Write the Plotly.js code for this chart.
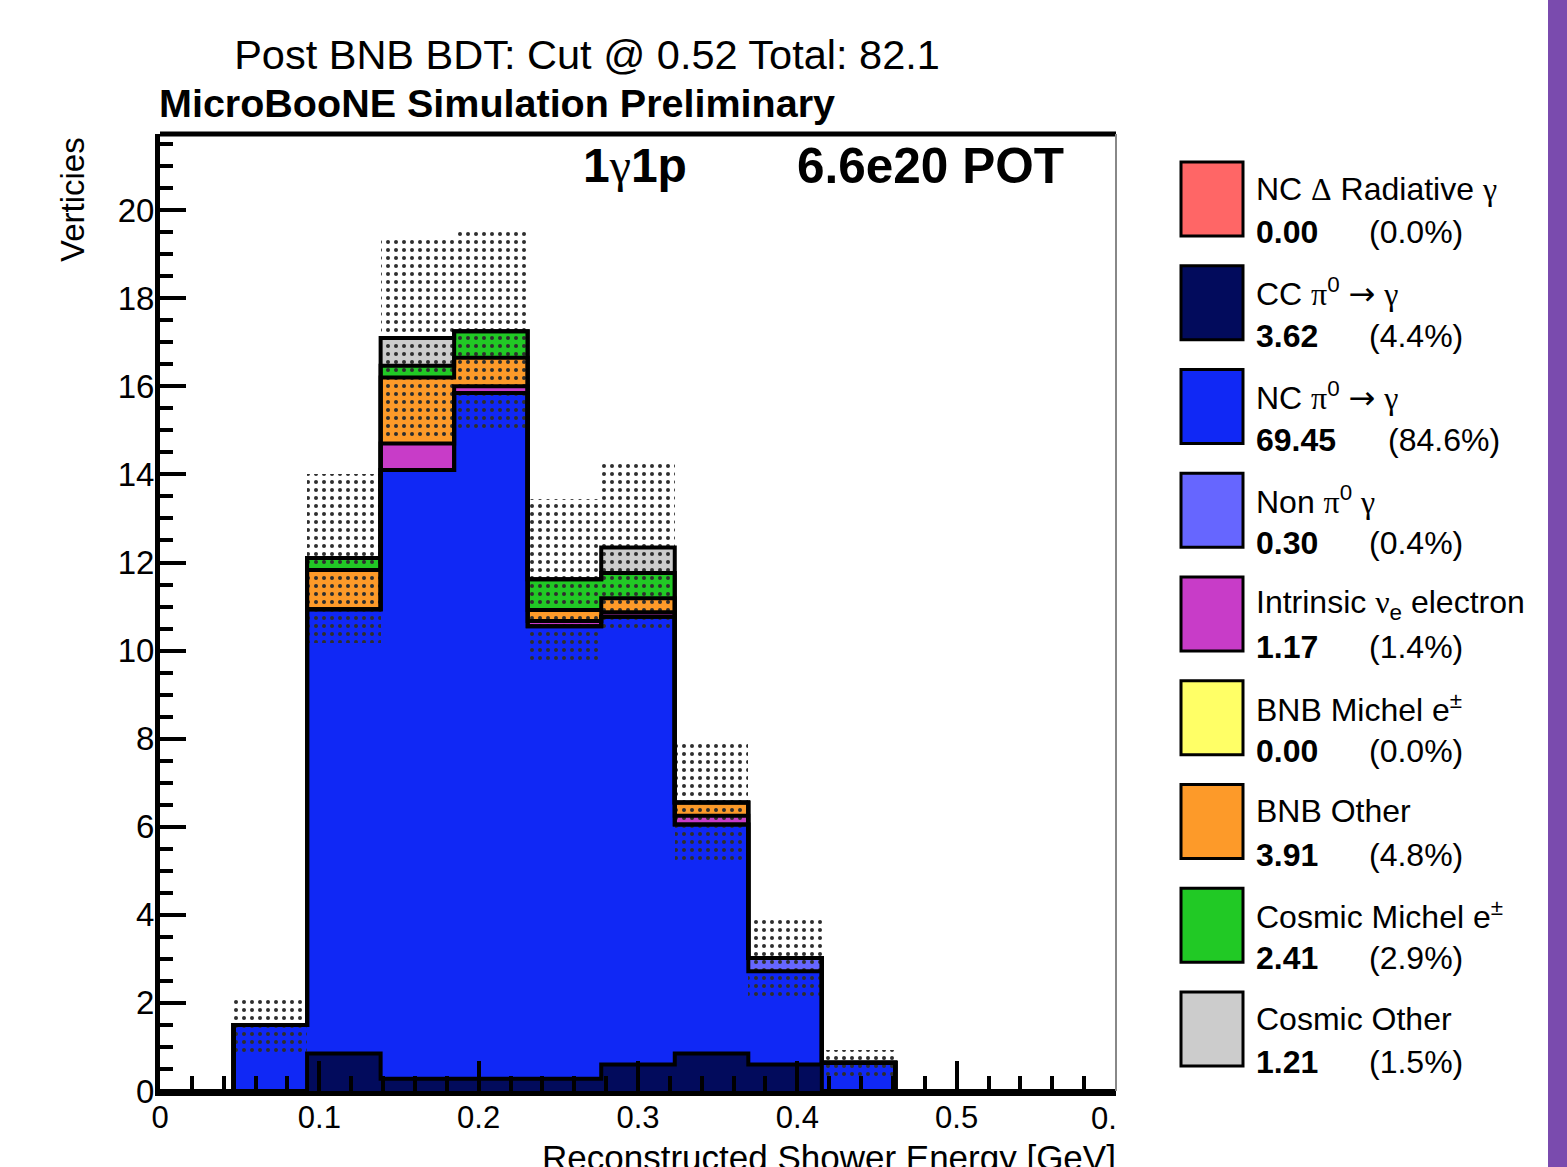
<!DOCTYPE html>
<html><head><meta charset="utf-8">
<script src="https://cdn.plot.ly/plotly-3.0.1.min.js"></script>
<style>html,body{margin:0;padding:0;background:#fff;} #chart{width:1567px;height:1167px;}</style>
</head><body><div id="chart"></div>
<script>
// ---------- data ----------
const xMin = 0, xMax = 0.6, nBins = 13;
const ncDeltaRad   = [0, 0,    0,     0,     0,     0,     0,     0,    0,    0,    0, 0, 0];
const ccPi0        = [0, 0,    0.85,  0.28,  0.28,  0.28,  0.6,   0.85, 0.6,  0,    0, 0, 0];
const ncPi0        = [0, 1.5,  10.09, 13.82, 15.57, 10.27, 10.17, 5.2,  2.12, 0.64, 0, 0, 0];
const nonPi0       = [0, 0,    0,     0,     0,     0,     0,     0,    0.3,  0,    0, 0, 0];
const intrinsicNue = [0, 0,    0,     0.6,   0.15,  0.12,  0.1,   0.2,  0,    0,    0, 0, 0];
const bnbMichel    = [0, 0,    0,     0,     0,     0,     0,     0,    0,    0,    0, 0, 0];
const bnbOther     = [0, 0,    0.89,  1.5,   0.65,  0.25,  0.32,  0.3,  0,    0,    0, 0, 0];
const cosmicMichel = [0, 0,    0.27,  0.27,  0.6,   0.7,   0.57,  0,    0,    0,    0, 0, 0];
const cosmicOther  = [0, 0,    0,     0.63,  0,     0,     0.58,  0,    0,    0,    0, 0, 0];
const statErr      = [0, 0.61, 1.92,  2.22,  2.25,  1.83,  1.89,  1.34, 0.93, 0.29, 0, 0, 0];

const SERIF = 'font-family:Liberation Serif';
const ARROW = '<span style="font-family:DejaVu Sans">→</span>';
const seriesNames = [
  'NC <span style="' + SERIF + '">Δ</span> Radiative <span style="' + SERIF + '">γ</span>',
  'CC <span style="' + SERIF + '">π</span><sup>0</sup> ' + ARROW + ' <span style="' + SERIF + '">γ</span>',
  'NC <span style="' + SERIF + '">π</span><sup>0</sup> ' + ARROW + ' <span style="' + SERIF + '">γ</span>',
  'Non <span style="' + SERIF + '">π</span><sup>0</sup> <span style="' + SERIF + '">γ</span>',
  'Intrinsic <span style="' + SERIF + '">ν</span><sub>e</sub> electron',
  'BNB Michel e<sup>±</sup>',
  'BNB Other',
  'Cosmic Michel e<sup>±</sup>',
  'Cosmic Other'
];
const seriesTotals = ['0.00', '3.62', '69.45', '0.30', '1.17', '0.00', '3.91', '2.41', '1.21'];
const seriesPcts   = ['(0.0%)', '(4.4%)', '(84.6%)', '(0.4%)', '(1.4%)', '(0.0%)', '(4.8%)', '(2.9%)', '(1.5%)'];
const xTickVals  = [0, 0.1, 0.2, 0.3, 0.4, 0.5];
const xTickText  = ['0', '0.1', '0.2', '0.3', '0.4', '0.5'];

// ---------- style ----------
const stack  = [ncDeltaRad, ccPi0, ncPi0, nonPi0, intrinsicNue, bnbMichel, bnbOther, cosmicMichel, cosmicOther];
const colors = ['#ff6666', '#020b5c', '#1028f5', '#6666ff', '#c83cc8', '#ffff66', '#fd9a29', '#21c925', '#cccccc'];
const FONT = 'Liberation Sans, Arial, Helvetica, sans-serif';

const binW = (xMax - xMin) / nBins;
const centers = Array.from({length: nBins}, (_, i) => xMin + (i + 0.5) * binW);
const edges = Array.from({length: nBins + 1}, (_, i) => xMin + i * binW);

const fillTraces = [], outlineTraces = [];
let cum = new Array(nBins).fill(0);
stack.forEach((vals, k) => {
  fillTraces.push({
    type: 'bar', x: centers, y: vals.map(v => v > 0 ? v : null), base: cum.slice(),
    width: binW, marker: {color: colors[k], line: {width: 0}},
    showlegend: false, hoverinfo: 'skip'
  });
  cum = cum.map((c, i) => c + vals[i]);
  if (vals.some(v => v > 0)) {
    outlineTraces.push({
      type: 'scatter', mode: 'lines', x: edges, y: cum.concat([cum[nBins - 1]]),
      line: {shape: 'hv', color: '#000', width: 4}, showlegend: false, hoverinfo: 'skip', cliponaxis: true
    });
  }
});
const total = cum;
const bandTrace = {
  type: 'bar', x: centers, y: statErr.map(e => e > 0 ? 2 * e : null),
  base: total.map((t, i) => t - statErr[i]), width: binW,
  marker: {color: 'rgba(0,0,0,0)', line: {width: 0},
           pattern: {shape: '.', fgcolor: '#2e2e2e', size: 8, solidity: 0.2}},
  showlegend: false, hoverinfo: 'skip'
};
const traces = fillTraces.concat([bandTrace], outlineTraces);

// ---------- layout helpers (pixel -> paper) ----------
const L = 160, R = 1116, T = 134, B = 1091;
const px = p => (p - L) / (R - L);
const py = p => (B - p) / (B - T);

const annotations = [
  {text: '<b>MicroBooNE Simulation Preliminary</b>', x: px(157), y: py(103), xanchor: 'left', yanchor: 'middle', font: {size: 39.5}},
  {text: '<b>1</b><span style="' + SERIF + '">γ</span><b>1p</b>', x: px(635), y: py(165), xanchor: 'center', yanchor: 'middle', font: {size: 48}},
  {text: '<b>6.6e20 POT</b>', x: px(795), y: py(165), xanchor: 'left', yanchor: 'middle', font: {size: 49.5}},
  {text: 'Reconstructed Shower Energy [GeV]', x: px(1118), y: py(1157), xanchor: 'right', yanchor: 'middle', font: {size: 35}},
  {text: 'Verticies', x: px(72), y: py(200), xanchor: 'center', yanchor: 'middle', textangle: -90, font: {size: 33}},
  {text: '0.', x: px(1119), y: py(1118), xanchor: 'right', yanchor: 'middle', font: {size: 31}}
];
const shapes = [
  {type: 'line', xref: 'paper', yref: 'paper', x0: 0, x1: 1, y0: 1, y1: 1, line: {color: '#000', width: 5}},
  {type: 'line', xref: 'paper', yref: 'paper', x0: 1, x1: 1, y0: 0, y1: 1, line: {color: '#888', width: 2}},
  {type: 'rect', xref: 'paper', yref: 'paper', x0: px(1548), x1: px(1570), y0: py(-5), y1: py(1172), fillcolor: '#7a4bae', line: {width: 0}}
];
seriesNames.forEach((name, i) => {
  const top = 162 + i * 103.75;
  shapes.push({type: 'rect', xref: 'paper', yref: 'paper', x0: px(1181), x1: px(1243), y0: py(top), y1: py(top + 74),
               fillcolor: colors[i], line: {color: '#000', width: 3}});
  annotations.push({text: name, x: px(1254), y: py(top + 27), xanchor: 'left', yanchor: 'middle', font: {size: 32}});
  annotations.push({text: '<b>' + seriesTotals[i] + '</b>', x: px(1254), y: py(top + 70), xanchor: 'left', yanchor: 'middle', font: {size: 32}});
  const valW = seriesTotals[i].length * 18.3;
  annotations.push({text: seriesPcts[i], x: px(1257 + valW + 37), y: py(top + 70), xanchor: 'left', yanchor: 'middle', font: {size: 32}});
});
annotations.forEach(a => { a.xref = 'paper'; a.yref = 'paper'; a.showarrow = false; a.font.family = FONT; a.font.color = '#000'; });

const layout = {
  width: 1567, height: 1167,
  margin: {l: L, r: 1567 - R, t: T, b: 1167 - B, pad: 0},
  paper_bgcolor: '#fff', plot_bgcolor: '#fff',
  barmode: 'overlay', bargap: 0,
  font: {family: FONT, color: '#000'},
  title: {text: 'Post BNB BDT: Cut @ 0.52 Total: 82.1', x: 587 / 1567, xref: 'container', xanchor: 'center',
          y: 1 - 54 / 1167, yref: 'container', yanchor: 'middle', font: {family: FONT, size: 41.5, color: '#000'}},
  xaxis: {range: [xMin, xMax], tickmode: 'array', tickvals: xTickVals, ticktext: xTickText,
          ticks: 'inside', ticklen: 30, tickwidth: 4, tickcolor: '#000',
          minor: {ticks: 'inside', ticklen: 15, tickwidth: 4, tickcolor: '#000', tick0: 0, dtick: 0.02, showgrid: false},
          showline: true, linewidth: 5, linecolor: '#000', showgrid: false, zeroline: false,
          tickfont: {size: 31, family: FONT}, ticklabelstandoff: -5},
  yaxis: {range: [0, 21.73], tick0: 0, dtick: 2,
          ticks: 'inside', ticklen: 26, tickwidth: 4, tickcolor: '#000',
          minor: {ticks: 'inside', ticklen: 13, tickwidth: 4, tickcolor: '#000', tick0: 0, dtick: 0.5, showgrid: false},
          showline: true, linewidth: 5, linecolor: '#000', showgrid: false, zeroline: false,
          tickfont: {size: 33, family: FONT}, ticklabelstandoff: -6},
  annotations: annotations, shapes: shapes, showlegend: false
};

Plotly.newPlot('chart', traces, layout, {staticPlot: true, displayModeBar: false});
</script>
</body></html>
